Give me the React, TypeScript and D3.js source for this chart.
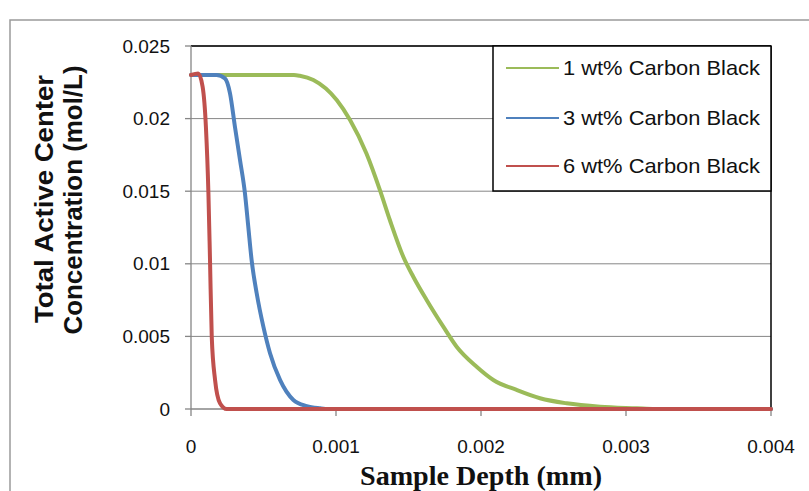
import React from "react";
import * as d3 from "d3";

const xTicks = [0, 0.001, 0.002, 0.003, 0.004];
const xTickLabels = ["0", "0.001", "0.002", "0.003", "0.004"];
const yTicks = [0, 0.005, 0.01, 0.015, 0.02, 0.025];
const yTickLabels = ["0", "0.005", "0.01", "0.015", "0.02", "0.025"];

const seriesNames = ["1 wt% Carbon Black", "3 wt% Carbon Black", "6 wt% Carbon Black"];
const seriesColors = ["#9BBB59", "#4F81BD", "#C0504D"];

const depth1 = [0, 0.0002, 0.0004, 0.0006, 0.00071, 0.00075, 0.000844, 0.001005, 0.001097, 0.00121, 0.001303, 0.001372, 0.001464, 0.001533, 0.001625, 0.00174, 0.001832, 0.00197, 0.002085, 0.002246, 0.002407, 0.002591, 0.002821, 0.003074, 0.0032, 0.004];
const conc1 = [0.023, 0.023, 0.023, 0.023, 0.023, 0.02295, 0.02266, 0.02128, 0.0199, 0.0176, 0.01508, 0.013, 0.01049, 0.00911, 0.00751, 0.00567, 0.00429, 0.00291, 0.002, 0.00131, 0.00074, 0.00039, 0.00016, 0.00005, 0, 0];

const depth3 = [0, 0.000177, 0.000234, 0.000269, 0.000303, 0.000338, 0.000372, 0.000395, 0.000418, 0.000453, 0.000499, 0.000545, 0.000614, 0.000706, 0.000798, 0.00089, 0.00095, 0.004];
const conc3 = [0.023, 0.023, 0.02277, 0.02174, 0.01944, 0.01715, 0.01486, 0.01256, 0.01026, 0.00797, 0.00567, 0.00384, 0.002, 0.00062, 0.0002, 0.00005, 0, 0];

const depth6 = [0, 0.00005, 0.00008, 0.000103, 0.00012, 0.000131, 0.000143, 0.000166, 0.0002, 0.000246, 0.004];
const conc6 = [0.023, 0.0231, 0.0222, 0.0194, 0.0149, 0.0103, 0.005, 0.002, 0.0004, 0, 0];

const W = 809;
const H = 491;
const left = 191;
const right = 771;
const top = 46;
const bottom = 409;

export default function App() {
  const x = d3.scaleLinear().domain([0, 0.004]).range([left, right]);
  const y = d3.scaleLinear().domain([0, 0.025]).range([bottom, top]);
  const line = d3
    .line<[number, number]>()
    .x((d) => x(d[0]))
    .y((d) => y(d[1]))
    .curve(d3.curveMonotoneX);

  const series = [
    { xs: depth1, ys: conc1 },
    { xs: depth3, ys: conc3 },
    { xs: depth6, ys: conc6 },
  ];

  const legX = 493;
  const legY = top;
  const legW = right - legX;
  const legH = 191 - top;
  const legRows = [68, 118, 166];

  const grey = "#868686";
  const font = "Arial, 'Liberation Sans', sans-serif";

  return (
    <svg
      width={W}
      height={H}
      style={{ position: "fixed", left: 0, top: 0, background: "#fff" }}
    >
      <rect x={0} y={0} width={W} height={H} fill="#fff" />
      <rect x={10} y={20} width={W + 20} height={H + 20} fill="#fff" stroke="#9a9a9a" strokeWidth={1.5} />

      {/* gridlines */}
      {yTicks.map((t, i) =>
        t === 0 ? null : (
          <line key={"g" + i} x1={left} x2={right} y1={y(t)} y2={y(t)} stroke={grey} strokeWidth={1} />
        )
      )}

      {/* plot frame top/right */}
      <line x1={left} x2={right} y1={top} y2={top} stroke="#000" strokeWidth={1.5} />
      <line x1={right} x2={right} y1={top} y2={bottom} stroke="#000" strokeWidth={1.5} />

      {/* axes */}
      <line x1={left} x2={left} y1={top} y2={bottom} stroke={grey} strokeWidth={1.3} />
      <line x1={left} x2={right} y1={bottom} y2={bottom} stroke={grey} strokeWidth={1.3} />
      {yTicks.map((t, i) => (
        <line key={"yt" + i} x1={left - 6} x2={left} y1={y(t)} y2={y(t)} stroke={grey} strokeWidth={1.3} />
      ))}
      {xTicks.map((t, i) => (
        <line key={"xt" + i} x1={x(t)} x2={x(t)} y1={bottom} y2={bottom + 7} stroke={grey} strokeWidth={1.3} />
      ))}

      {/* tick labels */}
      {yTicks.map((t, i) => (
        <text
          key={"yl" + i}
          x={170}
          y={y(t)}
          dy="0.35em"
          textAnchor="end"
          fontFamily={font}
          fontSize={19}
          fill="#111"
        >
          {yTickLabels[i]}
        </text>
      ))}
      {xTicks.map((t, i) => (
        <text
          key={"xl" + i}
          x={x(t)}
          y={453}
          textAnchor="middle"
          fontFamily={font}
          fontSize={19}
          fill="#111"
        >
          {xTickLabels[i]}
        </text>
      ))}

      {/* series */}
      {series.map((s, i) => (
        <path
          key={"s" + i}
          d={line(s.xs.map((v, j) => [v, s.ys[j]] as [number, number])) || ""}
          fill="none"
          stroke={seriesColors[i]}
          strokeWidth={4}
          strokeLinejoin="round"
          strokeLinecap="round"
        />
      ))}

      {/* legend */}
      <rect x={legX} y={legY} width={legW} height={legH} fill="#fff" stroke="#000" strokeWidth={1.5} />
      {seriesNames.map((n, i) => (
        <g key={"lg" + i}>
          <line x1={506} x2={559} y1={legRows[i]} y2={legRows[i]} stroke={seriesColors[i]} strokeWidth={2} />
          <text x={563} y={legRows[i]} dy="0.35em" fontFamily={font} fontSize={21} fill="#111" textLength={197} lengthAdjust="spacingAndGlyphs">
            {n}
          </text>
        </g>
      ))}

      {/* axis titles */}
      <text
        x={481}
        y={485}
        textAnchor="middle"
        fontFamily="'Liberation Serif', 'DejaVu Serif', serif"
        fontWeight="bold"
        fontSize={27}
        fill="#111"
        textLength={242}
        lengthAdjust="spacingAndGlyphs"
      >
        Sample Depth (mm)
      </text>
      <g transform="translate(53,199) rotate(-90)">
        <text x={0} y={0} textAnchor="middle" fontFamily={font} fontWeight="bold" fontSize={26} fill="#111" textLength={248} lengthAdjust="spacingAndGlyphs">
          Total Active Center
        </text>
      </g>
      <g transform="translate(82,200) rotate(-90)">
        <text x={0} y={0} textAnchor="middle" fontFamily={font} fontWeight="bold" fontSize={26} fill="#111" textLength={269} lengthAdjust="spacingAndGlyphs">
          Concentration  (mol/L)
        </text>
      </g>
    </svg>
  );
}
